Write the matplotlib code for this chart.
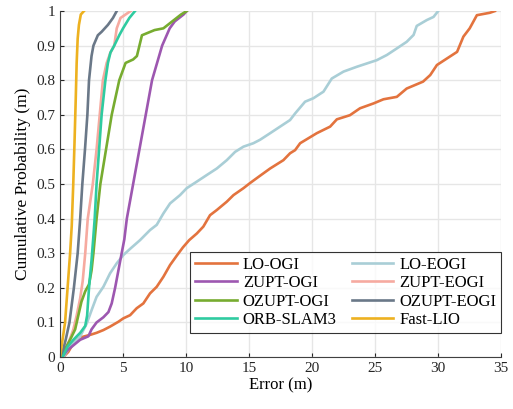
import numpy as np
import matplotlib.pyplot as plt

plt.rcParams['font.family'] = ['Liberation Serif', 'DejaVu Serif']
plt.rcParams['font.size'] = 11

# error (m) / cumulative probability pairs for each method
lo_ogi_e = [0.26, 0.66, 1.06, 1.46, 1.85, 2.38, 2.9, 3.44, 3.97, 4.63, 5.03, 5.56, 6.08, 6.61,
            7.14, 7.67, 8.2, 8.73, 9.3, 9.75, 10.25, 10.85, 11.37, 11.9, 12.44, 13.23, 13.76,
            14.55, 15.08, 15.87, 16.67, 17.72, 18.25, 18.65, 19.05, 20.37, 21.43, 21.96, 23.0,
            23.8, 24.87, 25.66, 26.72, 27.5, 28.8, 29.37, 29.9, 30.7, 31.5, 32.0, 32.5, 33.07,
            34.1, 34.5]
lo_ogi_p = [0, 0.015, 0.04, 0.054, 0.059, 0.064, 0.07, 0.078, 0.088, 0.102, 0.112, 0.121, 0.141,
            0.155, 0.184, 0.203, 0.232, 0.266, 0.295, 0.317, 0.338, 0.357, 0.377, 0.41, 0.425,
            0.449, 0.468, 0.488, 0.503, 0.524, 0.545, 0.569, 0.589, 0.598, 0.618, 0.647, 0.666,
            0.687, 0.699, 0.719, 0.733, 0.745, 0.752, 0.776, 0.796, 0.815, 0.844, 0.863, 0.882,
            0.926, 0.95, 0.988, 0.995, 1.0]

lo_eogi_e = [0.26, 0.79, 1.32, 1.59, 2.12, 2.51, 2.9, 3.44, 3.97, 4.5, 5.03, 5.6, 6.35, 7.14,
             7.67, 8.2, 8.73, 9.52, 10.05, 10.85, 11.64, 12.44, 13.23, 13.89, 14.55, 15.34,
             15.87, 16.67, 17.46, 18.25, 18.65, 19.44, 20.1, 20.9, 21.56, 22.49, 23.55, 25.13,
             25.93, 26.72, 27.5, 28.05, 28.3, 29.1, 29.63, 30.0]
lo_eogi_p = [0, 0.03, 0.049, 0.059, 0.097, 0.136, 0.174, 0.203, 0.242, 0.271, 0.295, 0.314,
             0.338, 0.367, 0.382, 0.415, 0.444, 0.468, 0.488, 0.507, 0.526, 0.545, 0.569, 0.593,
             0.608, 0.618, 0.628, 0.647, 0.666, 0.685, 0.704, 0.738, 0.748, 0.767, 0.805, 0.825,
             0.839, 0.858, 0.873, 0.892, 0.911, 0.931, 0.957, 0.974, 0.983, 1.0]

zupt_ogi_e = [0.15, 0.6, 0.93, 1.6, 2.25, 2.5, 2.9, 3.44, 3.84, 4.1, 4.37, 4.63, 4.89, 5.1, 5.3,
              5.8, 6.2, 6.6, 6.8, 7.3, 7.7, 8.1, 8.7, 9.1, 9.8, 10.05]
zupt_ogi_p = [0, 0.02, 0.03, 0.05, 0.06, 0.08, 0.1, 0.115, 0.13, 0.155, 0.2, 0.25, 0.3, 0.34,
              0.4, 0.5, 0.58, 0.66, 0.7, 0.8, 0.85, 0.9, 0.95, 0.97, 0.99, 1.0]

zupt_eogi_e = [0.1, 0.66, 1.06, 1.32, 1.6, 1.8, 2.0, 2.2, 2.6, 2.9, 3.15, 3.4, 3.7, 4.0, 4.3,
               4.5, 4.8, 5.2, 5.6]
zupt_eogi_p = [0, 0.04, 0.08, 0.12, 0.17, 0.22, 0.3, 0.4, 0.5, 0.6, 0.7, 0.8, 0.85, 0.88, 0.9,
               0.95, 0.98, 0.99, 1.0]

ozupt_ogi_e = [0.1, 0.5, 0.8, 1.2, 1.45, 1.7, 2.0, 2.3, 2.5, 2.65, 2.9, 3.2, 3.65, 4.1, 4.7,
               5.2, 5.8, 6.1, 6.5, 7.5, 8.2, 8.9, 9.6, 10.05]
ozupt_ogi_p = [0, 0.03, 0.05, 0.08, 0.12, 0.16, 0.19, 0.21, 0.25, 0.3, 0.4, 0.5, 0.6, 0.7, 0.8,
               0.85, 0.86, 0.87, 0.93, 0.945, 0.95, 0.97, 0.99, 1.0]

ozupt_eogi_e = [0.1, 0.45, 0.75, 1.1, 1.4, 1.6, 1.77, 1.98, 2.17, 2.3, 2.5, 2.65, 3.0, 3.3, 3.8,
                4.2, 4.5]
ozupt_eogi_p = [0, 0.05, 0.1, 0.2, 0.3, 0.4, 0.5, 0.6, 0.7, 0.8, 0.87, 0.9, 0.93, 0.94, 0.96,
                0.98, 1.0]

orb_e = [0.2, 0.6, 1.06, 1.6, 2.0, 2.15, 2.3, 2.5, 2.65, 2.75, 2.9, 3.1, 3.3, 3.6, 3.8, 4.0,
         4.3, 4.7, 5.0, 5.5, 5.95]
orb_p = [0, 0.03, 0.05, 0.07, 0.09, 0.12, 0.2, 0.28, 0.35, 0.4, 0.5, 0.6, 0.7, 0.8, 0.85, 0.88,
         0.9, 0.93, 0.95, 0.98, 1.0]

fastlio_e = [0, 0.2, 0.4, 0.6, 0.8, 0.93, 1.05, 1.15, 1.25, 1.32, 1.4, 1.5, 1.65, 1.9]
fastlio_p = [0, 0.05, 0.1, 0.2, 0.3, 0.38, 0.5, 0.62, 0.75, 0.85, 0.92, 0.96, 0.99, 1.0]

series = [
    ('LO-OGI', lo_ogi_e, lo_ogi_p, '#E3733E'),
    ('LO-EOGI', lo_eogi_e, lo_eogi_p, '#A9CED6'),
    ('ZUPT-OGI', zupt_ogi_e, zupt_ogi_p, '#9D57B0'),
    ('ZUPT-EOGI', zupt_eogi_e, zupt_eogi_p, '#F6AAA0'),
    ('OZUPT-OGI', ozupt_ogi_e, ozupt_ogi_p, '#77AC30'),
    ('OZUPT-EOGI', ozupt_eogi_e, ozupt_eogi_p, '#6A7888'),
    ('ORB-SLAM3', orb_e, orb_p, '#2FCBA0'),
    ('Fast-LIO', fastlio_e, fastlio_p, '#EDB120'),
]

fig = plt.figure(figsize=(5.13, 4.09), dpi=100)
ax = fig.add_axes([0.117, 0.127, 0.86, 0.846])

handles = []
for name, e, p, c in series:
    h, = ax.plot(e, p, color=c, lw=1.9, label=name)
    handles.append(h)

ax.set_xlim(0, 35)
ax.set_ylim(0, 1)
ax.set_xticks(np.arange(0, 36, 5))
ax.set_yticks(np.arange(0, 1.01, 0.1))
ax.set_yticklabels(['0', '0.1', '0.2', '0.3', '0.4', '0.5', '0.6', '0.7', '0.8', '0.9', '1'])
ax.grid(True, color='#E6E6E6', lw=1)
ax.set_axisbelow(True)
for s in ['top', 'right']:
    ax.spines[s].set_visible(False)
for s in ['left', 'bottom']:
    ax.spines[s].set_color('#404040')
ax.tick_params(direction='in', length=3, colors='#262626', labelsize=11)
ax.set_xlabel('Error (m)', fontsize=12, labelpad=2)
ax.set_ylabel('Cumulative Probability (m)', fontsize=12.5, labelpad=4)

# legend filled row by row: OGI variants on the left, EOGI variants on the right
order = handles[0::2] + handles[1::2]
leg = ax.legend(handles=order, ncol=2, loc='lower right', bbox_to_anchor=(1.0, 0.069),
                borderaxespad=0, fontsize=12, frameon=True, fancybox=False,
                edgecolor='black', handlelength=2.5, columnspacing=0.9,
                handletextpad=0.35, labelspacing=0.15, borderpad=0.3)
leg.get_frame().set_linewidth(0.8)

fig.savefig('out.png')
